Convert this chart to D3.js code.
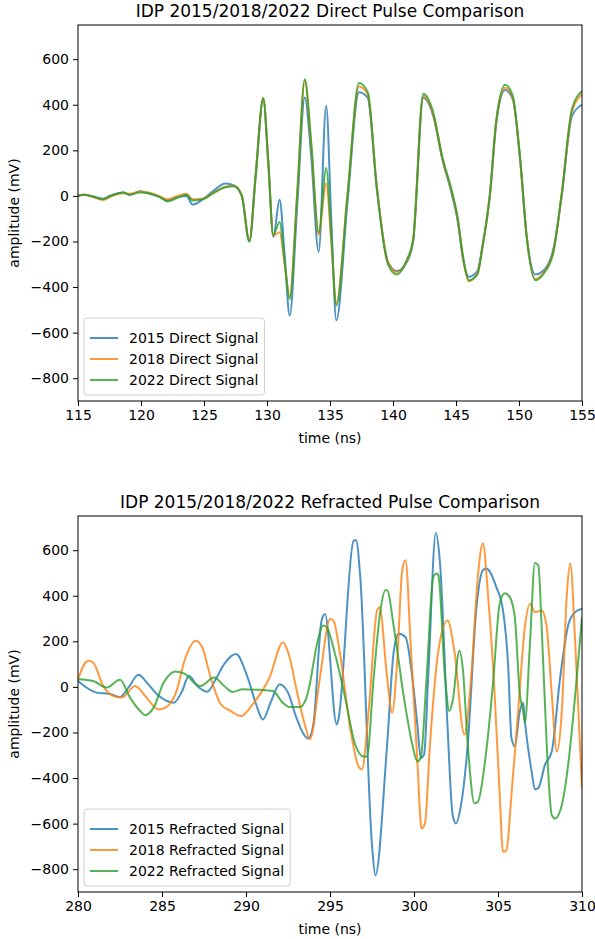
<!DOCTYPE html>
<html>
<head>
<meta charset="utf-8">
<script src="https://cdn.jsdelivr.net/npm/d3@7"></script>
<style>
  body { margin: 0; background: #fff; }
  text { font-family: "DejaVu Sans", sans-serif; fill: #000; }
</style>
</head>
<body>
<svg id="fig" width="595" height="939"></svg>
<script>
// ---- Direct pulse (115–155 ns), shared sample times ----
const directTime = [115, 115.5, 116.2, 117, 117.6, 118.6, 119.1, 119.9, 120.6, 121.5, 122.1, 122.9, 123.6, 124.1, 124.9, 125.7, 126.7, 127.4, 128.0, 128.6, 129.1, 129.7, 130.1, 130.5, 131.0, 131.4, 131.8, 132.4, 133.0, 133.5, 134.1, 134.7, 135.1, 135.5, 136.4, 137.3, 138.0, 138.7, 139.6, 140.3, 141.1, 141.6, 142.4, 143.2, 143.9, 144.7, 145.1, 145.6, 146.0, 146.7, 147.1, 147.7, 148.2, 148.9, 149.5, 150.1, 150.6, 151.3, 151.9, 152.7, 153.4, 154.2, 155.0];
const direct2015 = [0, 5, -3, -12, 2, 15, 5, 20, 12, -5, -20, -5, 0, -38, -15, 20, 55, 45, 0, -200, 80, 425, 150, -180, -17, -260, -525, -40, 432, 180, -245, 396, -100, -546, -20, 455, 430, 40, -290, -330, -290, -200, 430, 350, 165, 0, -100, -290, -355, -330, -220, 5, 320, 465, 425, 150, -170, -345, -330, -240, 5, 350, 400];
const direct2018 = [0, 5, -5, -18, -3, 12, 10, 18, 15, -2, -15, 0, 10, -15, -12, 12, 40, 45, 0, -195, 90, 430, 150, -175, -160, -300, -440, 10, 505, 230, -170, 55, -200, -470, 15, 480, 445, 50, -290, -335, -285, -195, 440, 355, 170, 10, -90, -285, -375, -340, -225, 10, 330, 475, 430, 155, -175, -365, -340, -250, 10, 370, 445];
const direct2022 = [0, 5, -3, -15, 0, 15, 5, 15, 12, -5, -25, -8, 5, -20, -15, 10, 38, 42, 0, -200, 95, 430, 150, -170, -115, -290, -452, 15, 512, 240, -160, 122, -180, -481, 10, 495, 455, 45, -300, -345, -280, -190, 448, 365, 175, 15, -85, -280, -370, -345, -225, 15, 335, 488, 440, 160, -175, -370, -345, -255, 15, 380, 460];

// ---- Refracted pulse (280–310 ns), one time base per survey ----
const refr2015Time = [280, 281.1, 281.9, 282.5, 283.0, 283.6, 284.1, 284.7, 285.3, 285.7, 286.2, 286.6, 287.1, 287.7, 288.2, 288.7, 289.4, 290.1, 290.6, 291.0, 291.5, 292.0, 292.5, 293.0, 293.5, 293.7, 294.0, 294.5, 294.7, 295.4, 295.5, 296.4, 296.55, 296.8, 297.5, 297.7, 298.4, 298.8, 299.1, 299.5, 299.9, 300.2, 300.4, 300.6, 300.85, 301.3, 301.55, 302.0, 302.3, 302.5, 302.8, 303.2, 303.7, 304.1, 304.3, 304.9, 305.3, 305.6, 305.8, 306.0, 306.3, 306.5, 306.6, 307.0, 307.2, 307.4, 307.8, 308.2, 308.7, 309.2, 309.6, 310.0];
const refr2015 = [26, -25, -31, -44, -3, 53, 19, -32, -62, -69, -18, 49, 4, -21, 34, 100, 144, 41, -76, -143, -62, 12, -25, -135, -215, -226, -170, 291, 320, -165, -143, 640, 645, 483, -695, -827, -253, 159, 233, 218, 41, -165, -312, -297, 50, 675, 542, -180, -562, -599, -518, -253, 335, 512, 520, 438, 335, 100, -224, -260, -106, -69, -150, -371, -450, -444, -341, -283, 41, 277, 328, 343];
const refr2018Time = [280, 280.6, 280.9, 281.5, 282.1, 282.6, 283.4, 284.0, 284.8, 285.2, 285.8, 286.4, 287.0, 287.4, 287.9, 288.5, 289.1, 289.7, 290.4, 291.4, 292.2, 292.6, 293.0, 293.5, 293.8, 294.4, 295.0, 295.2, 295.6, 296.2, 296.7, 296.9, 297.3, 297.8, 297.95, 298.4, 298.7, 299.0, 299.3, 299.5, 299.8, 300.2, 300.45, 300.65, 300.95, 301.45, 302.0, 302.4, 303.0, 303.4, 303.8, 304.1, 304.4, 304.8, 305.1, 305.3, 305.5, 305.8, 306.2, 306.6, 306.9, 307.2, 307.6, 307.9, 308.2, 308.5, 308.8, 309.1, 309.3, 309.6, 310.0];
const refr2018 = [34, 115, 107, 4, -40, -47, 4, -40, -99, -91, -32, 129, 203, 173, 41, -76, -106, -128, -76, 41, 195, 129, -10, -165, -230, 41, 298, 291, 144, -180, -349, -362, -106, 335, 350, 41, -113, 115, 512, 556, 188, -327, -622, -600, -253, 159, 291, 159, -209, 41, 483, 630, 410, -32, -474, -724, -718, -474, -106, 262, 365, 328, 335, 262, -32, -283, -106, 410, 542, 188, -444];
const refr2022Time = [280, 280.9, 281.7, 282.5, 283.1, 283.7, 284.0, 284.5, 285.1, 285.8, 286.4, 286.9, 287.3, 288.1, 288.7, 289.2, 289.8, 290.8, 291.6, 292.2, 292.6, 293.2, 293.6, 293.8, 294.2, 294.6, 294.8, 295.3, 295.9, 296.5, 297.0, 297.2, 297.6, 298.0, 298.3, 298.4, 298.8, 299.4, 299.9, 300.2, 300.4, 300.75, 301.15, 301.35, 301.45, 301.85, 302.1, 302.3, 302.7, 302.9, 303.2, 303.6, 303.8, 304.3, 304.7, 305.1, 305.4, 305.7, 306.0, 306.3, 306.5, 306.6, 306.9, 307.2, 307.4, 307.6, 307.9, 308.2, 308.4, 308.8, 309.2, 309.6, 310.0];
const refr2022 = [34, 26, -3, 31, -47, -106, -124, -91, 19, 68, 56, 19, 4, 41, 4, -22, -10, -13, -18, -70, -88, -88, -47, 13, 180, 269, 262, 144, -47, -253, -305, -305, 41, 335, 424, 424, 262, -47, -253, -327, -312, 41, 483, 498, 490, 41, -106, -62, 159, 85, -253, -511, -504, -283, 12, 365, 411, 394, 306, -32, -106, -157, 188, 544, 534, 262, -253, -562, -577, -518, -327, -32, 306];

const yTicks = [-800, -600, -400, -200, 0, 200, 400, 600];
const directXTicks = [115, 120, 125, 130, 135, 140, 145, 150, 155];
const refrXTicks = [280, 285, 290, 295, 300, 305, 310];
const seriesColors = ["#1f77b4", "#ff7f0e", "#2ca02c"];

const panels = [
  {
    title: "IDP 2015/2018/2022 Direct Pulse Comparison",
    top: 25, domain: [115, 155], xTicks: directXTicks,
    series: [
      { label: "2015 Direct Signal", t: directTime, v: direct2015 },
      { label: "2018 Direct Signal", t: directTime, v: direct2018 },
      { label: "2022 Direct Signal", t: directTime, v: direct2022 }
    ]
  },
  {
    title: "IDP 2015/2018/2022 Refracted Pulse Comparison",
    top: 516, domain: [280, 310], xTicks: refrXTicks,
    series: [
      { label: "2015 Refracted Signal", t: refr2015Time, v: refr2015 },
      { label: "2018 Refracted Signal", t: refr2018Time, v: refr2018 },
      { label: "2022 Refracted Signal", t: refr2022Time, v: refr2022 }
    ]
  }
];

const svg = d3.select("#fig");
const left = 78, right = 582, plotH = 376;
const fs = 14;
const fmt = d => String(d).replace("-", "\u2212");

panels.forEach((p, pi) => {
  const top = p.top, bottom = top + plotH;
  const x = d3.scaleLinear().domain(p.domain).range([left, right]);
  const y = d3.scaleLinear().domain([-900, 750]).range([bottom, top]);
  const g = svg.append("g");

  const clipId = "clip" + pi;
  g.append("clipPath").attr("id", clipId).append("rect")
    .attr("x", left).attr("y", top).attr("width", right - left).attr("height", plotH);

  const line = d3.line().x(d => x(d[0])).y(d => y(d[1])).curve(d3.curveMonotoneX);
  p.series.forEach((s, i) => {
    const pts = s.t.map((t, k) => [t, s.v[k]]);
    g.append("path").datum(pts)
      .attr("clip-path", `url(#${clipId})`)
      .attr("d", line)
      .attr("fill", "none")
      .attr("stroke", seriesColors[i])
      .attr("stroke-opacity", 0.8)
      .attr("stroke-width", 2)
      .attr("stroke-linejoin", "round");
  });

  // axes
  const xAxis = d3.axisBottom(x).tickValues(p.xTicks).tickSize(5).tickPadding(4).tickFormat(fmt);
  const yAxis = d3.axisLeft(y).tickValues(yTicks).tickSize(5).tickPadding(4).tickFormat(fmt);
  const gx = g.append("g").attr("transform", `translate(0,${bottom})`).call(xAxis);
  const gy = g.append("g").attr("transform", `translate(${left},0)`).call(yAxis);
  [gx, gy].forEach(a => {
    a.select(".domain").remove();
    a.selectAll(".tick line").attr("stroke", "#000").attr("stroke-width", 1);
    a.selectAll(".tick text").attr("font-size", fs).attr("font-family", "DejaVu Sans").attr("fill", "#000");
  });

  // frame
  g.append("rect").attr("x", left).attr("y", top).attr("width", right - left).attr("height", plotH)
    .attr("fill", "none").attr("stroke", "#000").attr("stroke-width", 1);

  // titles and labels
  g.append("text").attr("x", (left + right) / 2).attr("y", top - 8)
    .attr("text-anchor", "middle").attr("font-size", 17).text(p.title);
  g.append("text").attr("x", (left + right) / 2).attr("y", bottom + 42)
    .attr("text-anchor", "middle").attr("font-size", fs).text("time (ns)");
  g.append("text").attr("transform", `translate(19,${(top + bottom) / 2}) rotate(-90)`)
    .attr("text-anchor", "middle").attr("font-size", fs).text("amplitude (mV)");

  // legend (lower left)
  const lg = g.append("g");
  const box = lg.append("rect");
  const rows = p.series.map((s, i) => bottom - 63 + i * 21);
  let maxW = 0;
  p.series.forEach((s, i) => {
    lg.append("line").attr("x1", 90).attr("x2", 118).attr("y1", rows[i]).attr("y2", rows[i])
      .attr("stroke", seriesColors[i]).attr("stroke-opacity", 0.8).attr("stroke-width", 2);
    const t = lg.append("text").attr("x", 129).attr("y", rows[i]).attr("dy", "0.35em")
      .attr("font-size", fs).text(s.label);
    maxW = Math.max(maxW, t.node().getComputedTextLength());
  });
  box.attr("x", 84).attr("y", bottom - 83).attr("width", 129 + maxW + 6 - 84).attr("height", 77)
    .attr("rx", 3).attr("fill", "#fff").attr("fill-opacity", 0.8)
    .attr("stroke", "#d0d0d0").attr("stroke-width", 1);
});
</script>
</body>
</html>
